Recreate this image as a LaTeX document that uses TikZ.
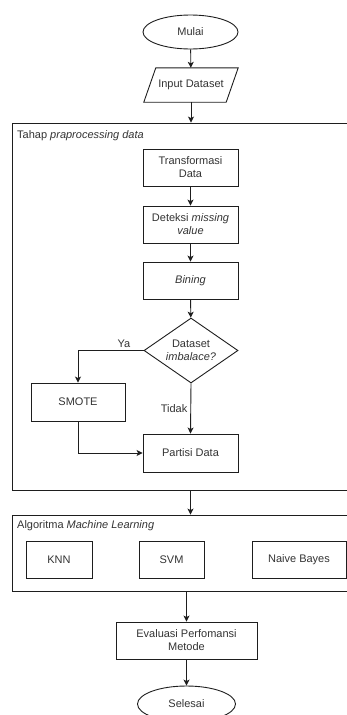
\documentclass[tikz,border=0pt]{standalone}
\usepackage{fontspec}
\setmainfont{Liberation Sans}
\usetikzlibrary{arrows.meta,positioning,shapes.geometric}
\definecolor{txtgray}{RGB}{51,51,51}
\definecolor{linegray}{RGB}{30,30,30}

\begin{document}
\begin{tikzpicture}[x=1pt,y=-1pt,
  every node/.style={font=\fontsize{11}{13}\selectfont,text=txtgray},
  procbox/.style={draw=linegray,line width=0.9pt,minimum width=95pt,minimum height=37pt,
        align=center,inner sep=2pt},
  termbox/.style={draw=linegray,line width=0.9pt,ellipse,minimum width=95pt,minimum height=34pt,
        inner sep=0pt},
  groupbox/.style={draw=linegray,line width=0.9pt,minimum width=338pt,inner sep=0pt},
  flow/.style={-{Stealth[length=6pt,width=6pt,inset=1.5pt]},line width=0.9pt,draw=linegray}]
  \useasboundingbox (0,0) rectangle (347,715);

  %% Start and input
  \node[termbox] (mulai) at (190.5,32) {Mulai};
  \node[minimum width=94pt,minimum height=34pt,inner sep=1pt] (input) at (191,85) {Input Dataset};
  \draw[linegray,line width=0.9pt] (input.south west) -- ([xshift=12pt]input.north west)
        -- (input.north east) -- ([xshift=-12pt]input.south east) -- cycle;

  %% Preprocessing group
  \node[groupbox,minimum height=367pt] (pre) at (181,306.5) {};
  \node[anchor=west,inner sep=1pt] (prelbl) at (16,136) {Tahap \textit{praprocessing data}};
  \node[procbox] (trans) at (190.5,167.5) {Transformasi\\Data};
  \node[procbox] (deteksi) at (190.5,224.5) {Deteksi \textit{missing}\\\textit{value}};
  \node[procbox] (bining) at (190.5,280.5) {\textit{Bining}};
  \node[draw=linegray,line width=0.9pt,diamond,aspect=1.45,minimum width=94pt,minimum height=65pt,
        inner sep=0pt,align=center] (cek) at (191,350.5) {Dataset\\\textit{imbalace?}};
  \node[procbox,minimum width=94pt,minimum height=38pt] (smote) at (78,402) {SMOTE};
  \node[procbox,minimum height=38pt] (partisi) at (190.5,453) {Partisi Data};

  %% Machine learning group
  \node[groupbox,minimum height=76pt] (ml) at (181,553) {};
  \node[anchor=west,inner sep=1pt] (mllbl) at (16,526) {Algoritma \textit{Machine Learning}};
  \node[procbox,minimum width=66pt] (knn) at (59,559.5) {KNN};
  \node[procbox,minimum width=65pt] (svm) at (171.5,559.5) {SVM};
  \node[procbox,minimum width=94pt] (nb) at (299,559.5) {Naive Bayes};

  %% Evaluation and end
  \node[procbox,minimum width=141pt] (eval) at (186.5,640.5) {Evaluasi Perfomansi\\Metode};
  \node[termbox,minimum width=98pt,minimum height=36pt] (selesai) at (186.5,704) {Selesai};

  %% Flow arrows
  \draw[flow] (mulai) -- (input);
  \draw[flow] (input) -- (input |- pre.north);
  \draw[flow] (trans) -- (deteksi);
  \draw[flow] (deteksi) -- (bining);
  \draw[flow] (bining) -- (cek);
  \draw[flow] (cek.west) -| node[pos=0.15,above=2pt,inner sep=0pt] {Ya} (smote.north);
  \draw[flow] (cek.south) -- node[midway,left=3pt,inner sep=0pt] {Tidak} (partisi.north);
  \draw[flow] (smote.south) |- (partisi.west);
  \draw[flow] (partisi |- pre.south) -- (partisi |- ml.north);
  \draw[flow] (eval |- ml.south) -- (eval.north);
  \draw[flow] (eval) -- (selesai);
\end{tikzpicture}
\end{document}
